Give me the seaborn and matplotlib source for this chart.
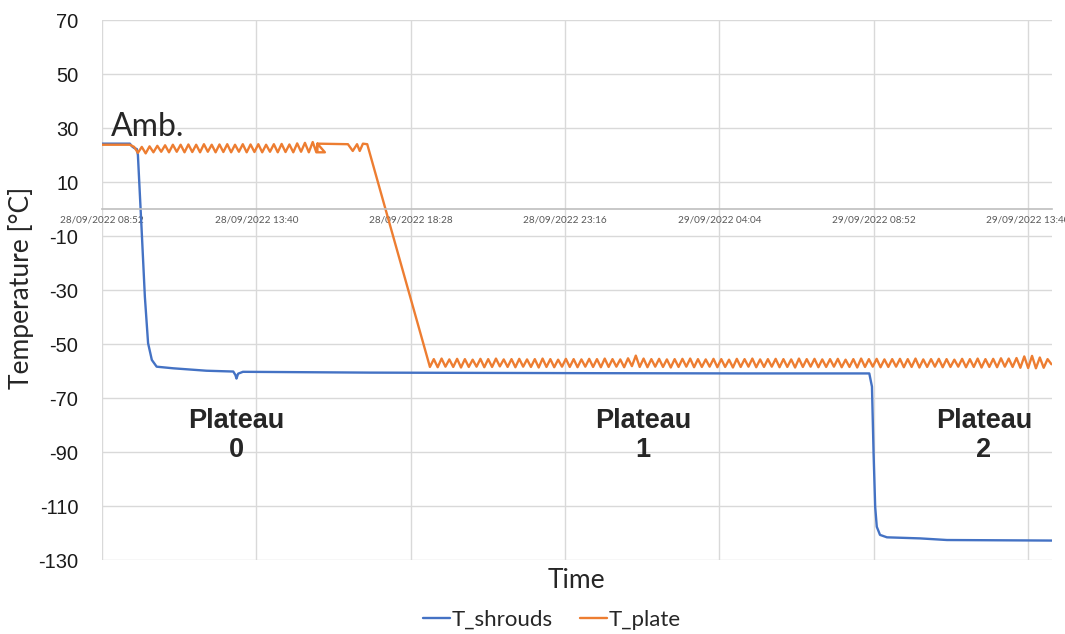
import numpy as np
import pandas as pd
import seaborn as sns
import matplotlib.pyplot as plt
import matplotlib.dates as mdates

START = pd.Timestamp('2022-09-28 08:52')

# T_shrouds: minutes from start / temperature
shroud_min = [0, 52, 56, 60, 65, 67, 74, 80, 86, 93, 102, 133, 195, 245, 249, 251, 254, 263,
              500, 900, 1200, 1432, 1437, 1440, 1443, 1446, 1452, 1465, 1527, 1577, 1773]
shroud_val = [24.2, 24.2, 23.2, 22.6, 22.2, 20.0, -7.8, -32.5, -49.7, -55.9, -58.4, -59.0, -59.9,
              -60.2, -61.5, -62.8, -61.0, -60.3, -60.6, -60.8, -60.9, -60.9, -65.8, -90.5, -110.3,
              -117.7, -120.7, -121.6, -122.0, -122.6, -122.8]

# T_plate, ambient regulation (troughs / peaks, one every 7.25 min from min 67)
plate_start_min = [0, 52, 60]
plate_start_val = [23.8, 23.8, 23.0]
troughs1 = [20.8, 20.6, 21.0, 21.2, 21.0, 21.2, 21.0, 21.1, 21.0, 21.2, 21.0, 21.1,
            21.0, 21.2, 21.0, 21.1, 21.0, 21.2, 21.0, 21.1, 21.0, 21.2, 21.0]
peaks1 = [23.0, 23.2, 23.4, 23.6, 23.8, 23.8, 23.9, 23.8, 24.0, 23.8, 23.9, 24.0,
          23.8, 24.0, 23.9, 24.0, 23.8, 24.0, 24.1, 23.9, 24.3, 24.5, 24.8]
# glitch, hold and ramp down
plate_mid_min = [400, 402, 402, 416, 402, 459, 468, 476, 481, 487, 495]
plate_mid_val = [21.0, 24.2, 21.0, 21.0, 24.2, 24.0, 21.5, 24.0, 21.5, 24.2, 24.0]
# cold regulation (troughs / peaks, one every 7.25 min from min 612)
troughs2 = [-58.5, -58.6, -58.4, -58.5, -58.7, -58.5, -58.4, -58.6, -58.5, -58.3,
            -58.5, -58.6, -58.4, -58.5, -58.7, -58.5, -58.6, -58.4, -58.5, -58.6,
            -58.4, -58.5, -58.6, -58.5, -58.4, -58.6, -58.2, -58.5, -58.6, -58.4,
            -58.5, -58.7, -58.5, -58.4, -58.6, -58.5, -58.4, -58.6, -58.5, -58.7,
            -58.5, -58.4, -58.6, -58.5, -58.4, -58.6, -58.5, -58.7, -58.5, -58.4,
            -58.6, -58.5, -58.4, -58.6, -58.5, -58.7, -58.5, -58.4, -58.6, -58.5,
            -58.4, -58.6, -58.5, -58.7, -58.5, -58.4, -58.6, -58.5, -58.4, -58.6,
            -58.5, -58.7, -58.5, -58.6, -58.4, -58.5, -58.8, -58.9, -59.0, -58.8,
            -57.5]
peaks2 = [-55.6, -55.4, -55.7, -55.5, -55.6, -55.8, -55.5, -55.6, -55.4, -55.7,
          -55.6, -55.5, -55.7, -55.6, -55.4, -55.6, -55.8, -55.5, -55.6, -55.7,
          -55.5, -55.6, -55.4, -55.6, -55.7, -55.3, -54.3, -55.4, -55.6, -55.5,
          -55.7, -55.6, -55.5, -55.4, -55.6, -55.7, -55.5, -55.6, -55.8, -55.5,
          -55.6, -55.4, -55.7, -55.6, -55.5, -55.6, -55.7, -55.4, -55.6, -55.5,
          -55.7, -55.6, -55.5, -55.8, -55.6, -55.4, -55.6, -55.5, -55.7, -55.6,
          -55.5, -55.6, -55.4, -55.7, -55.6, -55.5, -55.6, -55.8, -55.5, -55.6,
          -55.4, -55.6, -55.5, -55.3, -55.4, -55.2, -54.6, -54.4, -55.0, -55.6]

plateaus = ['Plateau\n0', 'Plateau\n1', 'Plateau\n2']
plateau_min = [250, 1010, 1646]
yticks = list(range(-130, 71, 20))


def alternate(lows, highs):
    out = np.empty(len(lows) + len(highs))
    out[0::2] = lows
    out[1::2] = highs
    return out


osc1 = alternate(troughs1, peaks1)
osc2 = alternate(troughs2, peaks2)
plate_min = np.concatenate([plate_start_min, 67 + 7.25 * np.arange(len(osc1)),
                            plate_mid_min, 612 + 7.25 * np.arange(len(osc2))])
plate_val = np.concatenate([plate_start_val, osc1, plate_mid_val, osc2])

df = pd.concat([
    pd.DataFrame({'minutes': shroud_min, 'temp': shroud_val, 'series': 'T_shrouds'}),
    pd.DataFrame({'minutes': plate_min, 'temp': plate_val, 'series': 'T_plate'}),
], ignore_index=True)
df['time'] = START + pd.to_timedelta(df['minutes'], unit='min')

sns.set_style('white')
plt.rcParams['font.family'] = ['Lato', 'DejaVu Sans']
plt.rcParams['axes.unicode_minus'] = False

fig = plt.figure(figsize=(10.65, 6.34), dpi=100)
ax = fig.add_axes([102 / 1065, 1 - 560 / 634, 950 / 1065, 540 / 634])

sns.lineplot(data=df, x='time', y='temp', hue='series', hue_order=['T_shrouds', 'T_plate'],
             palette={'T_shrouds': '#4472C4', 'T_plate': '#ED7D31'}, estimator=None,
             sort=False, linewidth=1.7, ax=ax)
for line in ax.lines:
    line.set_solid_joinstyle('round')
    line.set_solid_capstyle('round')

ax.set_xlim(START, START + pd.Timedelta(minutes=1773))
ax.set_ylim(-130, 70)
ax.set_yticks(yticks)
ax.set_xticks([START + pd.Timedelta(minutes=288 * i) for i in range(7)])
ax.xaxis.set_major_formatter(mdates.DateFormatter('%d/%m/%Y %H:%M'))
ax.grid(True, color='#d9d9d9', linewidth=1)
for s in ['top', 'right', 'left']:
    ax.spines[s].set_visible(False)
ax.spines['bottom'].set_position(('data', 0))
ax.spines['bottom'].set_color('#bfbfbf')
ax.spines['bottom'].set_linewidth(1.2)
ax.tick_params(axis='x', length=0, pad=5, labelsize=7.2, labelcolor='#595959')
ax.tick_params(axis='y', length=0, pad=17, labelsize=14.5, labelcolor='#1a1a1a')
for lab in ax.get_yticklabels():
    lab.set_fontfamily('Liberation Sans')
ax.set_xlabel('')
ax.set_ylabel('')

fig.text(21 / 1065, 1 - 288 / 634, 'Temperature [°C]', rotation=90, ha='center', va='center',
         fontsize=19)
fig.text(576 / 1065, 1 - 580 / 634, 'Time', ha='center', va='center', fontsize=19)

ax.text(START + pd.Timedelta(minutes=16), 30.5, 'Amb.', ha='left', va='center', fontsize=23)
for txt, m in zip(plateaus, plateau_min):
    ax.text(START + pd.Timedelta(minutes=m), -84, txt, ha='center', va='center',
            fontsize=19.5, fontweight='bold', family='Liberation Sans', linespacing=1.15)

handles, labels = ax.get_legend_handles_labels()
ax.get_legend().remove()
fig.legend(handles, labels, loc='center', bbox_to_anchor=(552 / 1065, 1 - 620 / 634), ncol=2,
           frameon=False, fontsize=16, handlelength=1.2, handletextpad=0.1, columnspacing=1.2)

fig.savefig('out.png', dpi=100)
